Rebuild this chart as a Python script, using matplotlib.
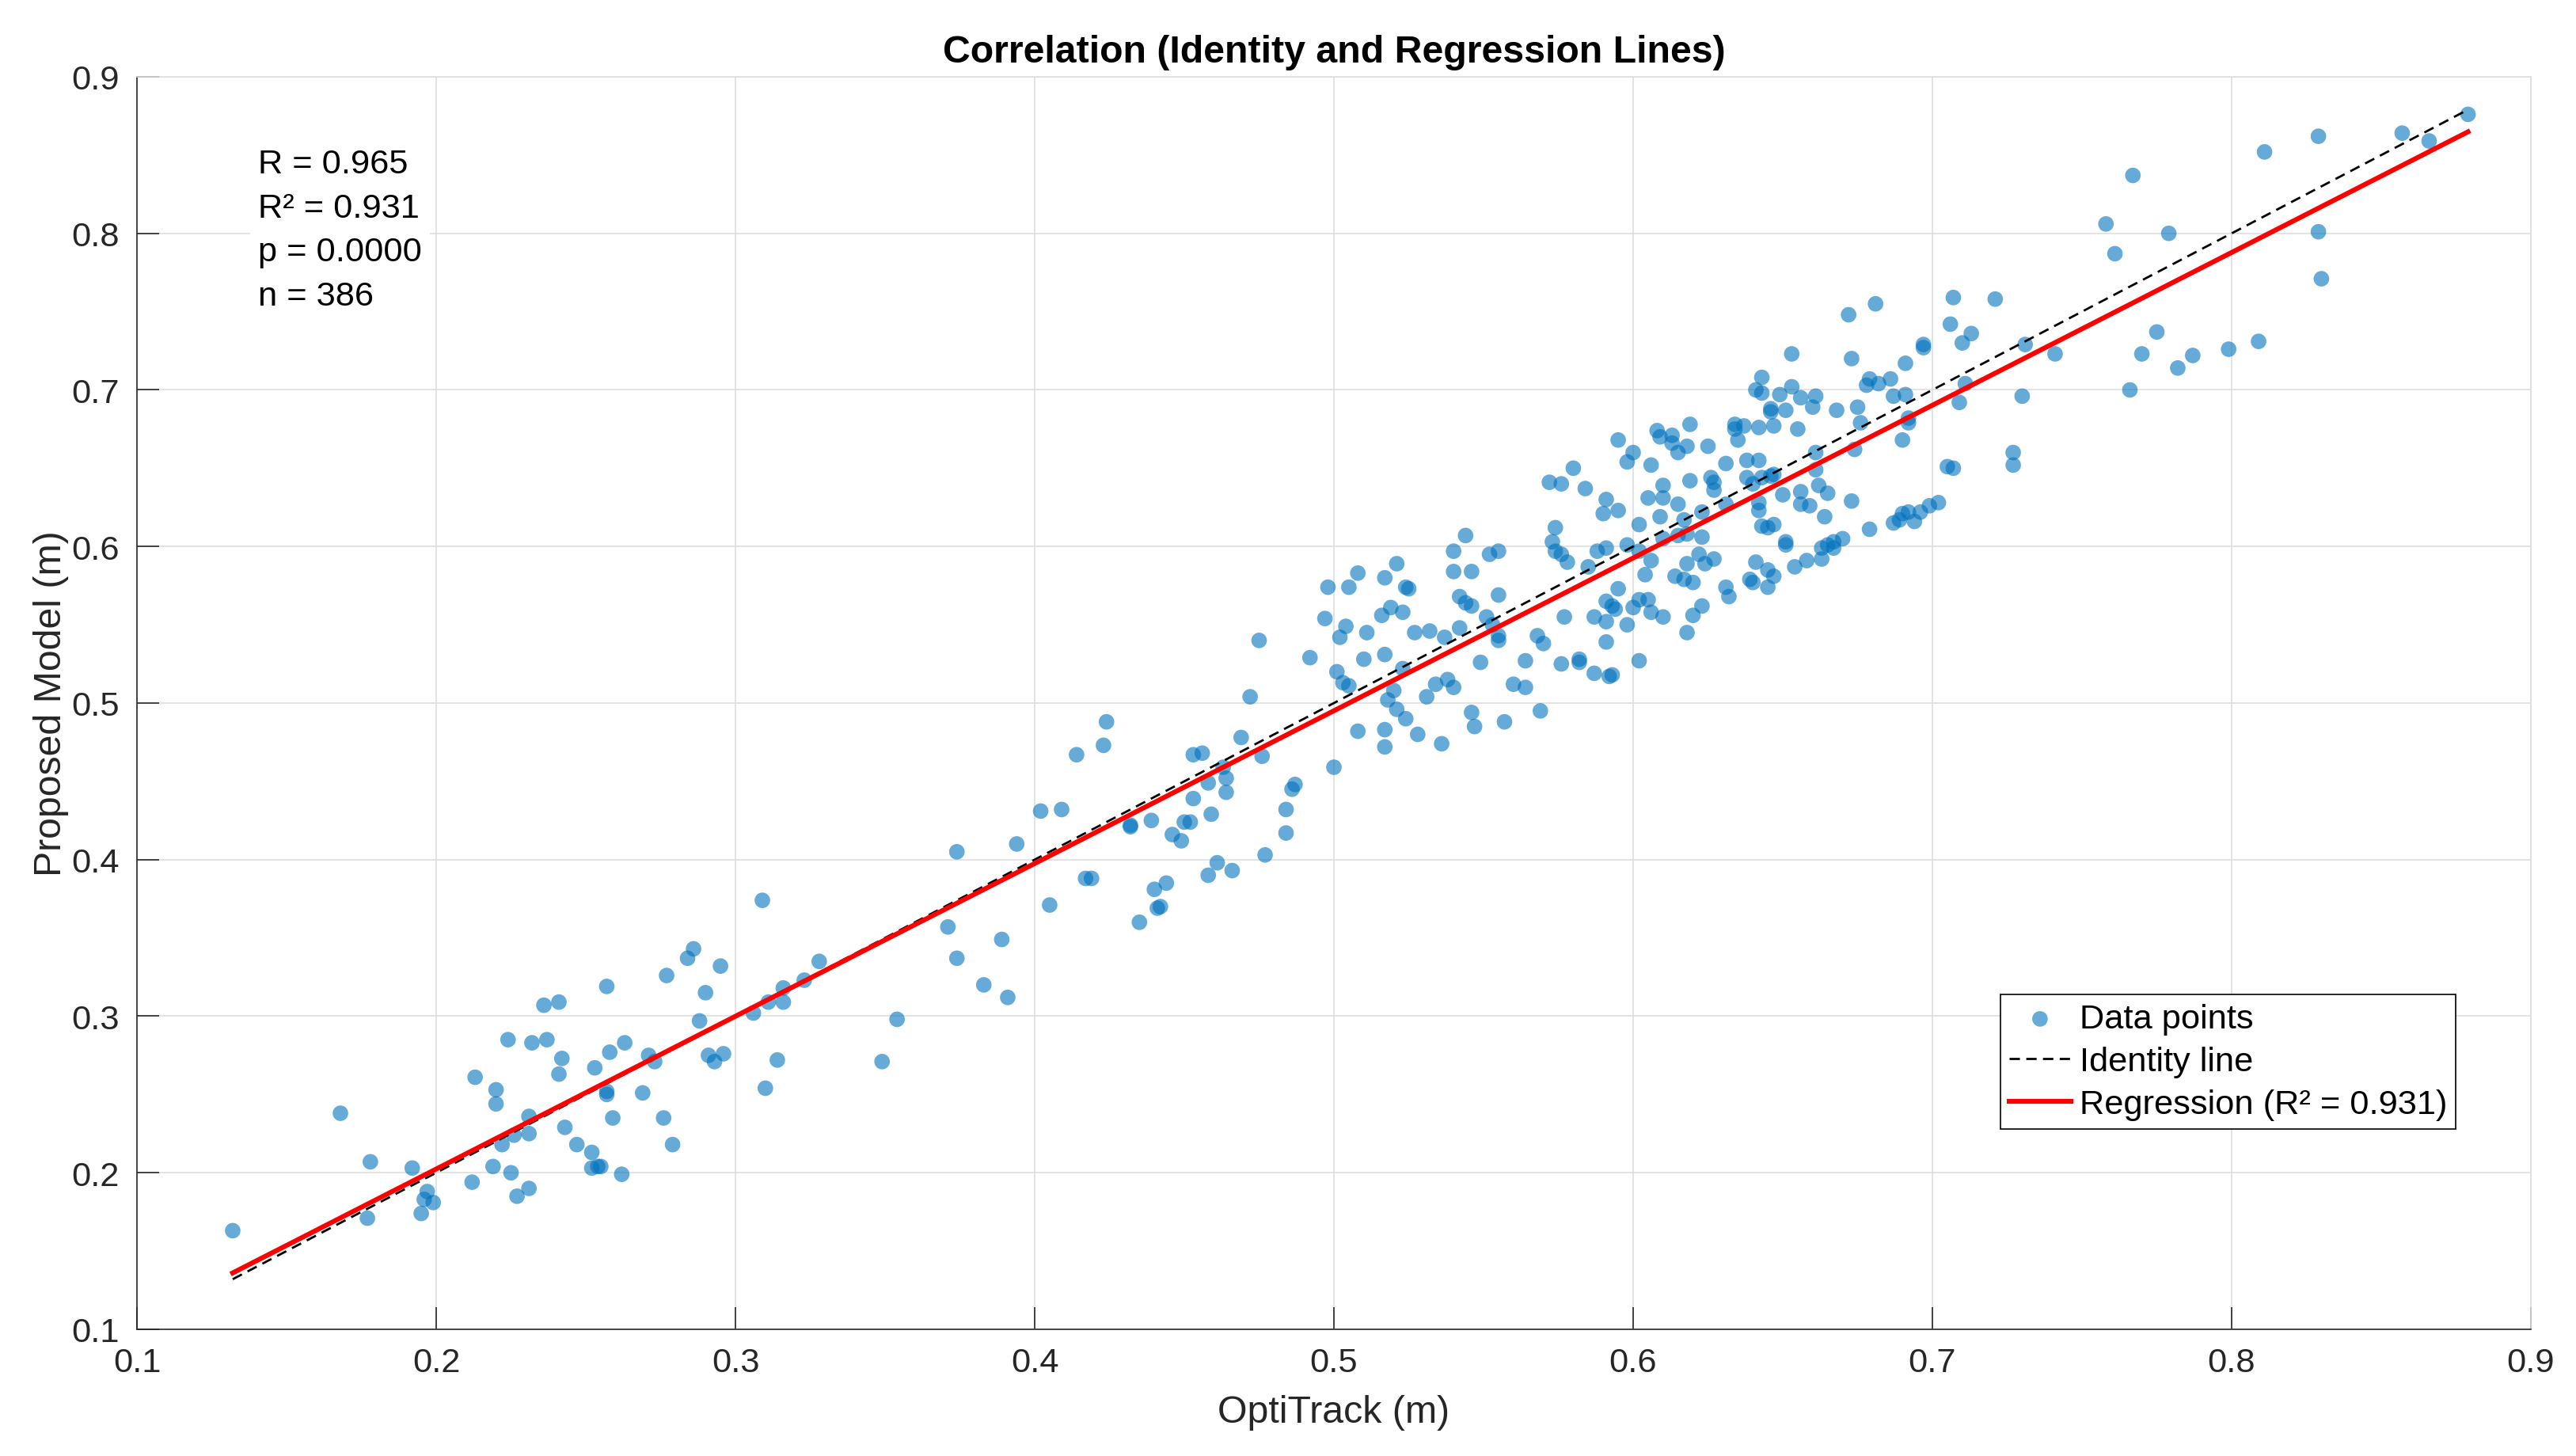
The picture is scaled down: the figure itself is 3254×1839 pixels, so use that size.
import numpy as np
import matplotlib.pyplot as plt

plt.rcParams['font.family'] = ['Liberation Sans', 'DejaVu Sans']

# values, grouped by OptiTrack range
opti_low = [0.132, 0.168, 0.178, 0.177, 0.192, 0.197, 0.196, 0.199, 0.195, 0.213,
            0.212, 0.219, 0.220, 0.220, 0.222, 0.224, 0.225, 0.227, 0.226, 0.231,
            0.231, 0.231, 0.232, 0.236, 0.241, 0.237, 0.242, 0.241, 0.243, 0.247,
            0.252, 0.252, 0.254, 0.255, 0.253, 0.257, 0.258, 0.257, 0.257, 0.259,
            0.262, 0.263]
model_low = [0.163, 0.238, 0.207, 0.171, 0.203, 0.188, 0.183, 0.181, 0.174, 0.261,
             0.194, 0.204, 0.253, 0.244, 0.218, 0.285, 0.200, 0.185, 0.224, 0.225,
             0.236, 0.190, 0.283, 0.307, 0.309, 0.285, 0.273, 0.263, 0.229, 0.218,
             0.213, 0.203, 0.204, 0.204, 0.267, 0.319, 0.277, 0.252, 0.250, 0.235,
             0.199, 0.283]

opti_mid = [0.269, 0.271, 0.273, 0.276, 0.277, 0.279, 0.284, 0.286, 0.288, 0.290,
            0.291, 0.293, 0.296, 0.295, 0.306, 0.309, 0.310, 0.311, 0.314, 0.316,
            0.316, 0.323, 0.328, 0.349, 0.354, 0.371, 0.374, 0.374, 0.383,
            0.389, 0.391, 0.394, 0.402, 0.405, 0.409, 0.414, 0.417, 0.419, 0.423,
            0.424, 0.432, 0.432, 0.435, 0.439, 0.440, 0.441, 0.442, 0.444, 0.446,
            0.449, 0.450, 0.452, 0.453, 0.453, 0.456, 0.458, 0.459, 0.458, 0.461,
            0.463, 0.464, 0.464, 0.466, 0.469, 0.472, 0.476, 0.475, 0.477, 0.484,
            0.484, 0.486, 0.487]
model_mid = [0.251, 0.275, 0.271, 0.235, 0.326, 0.218, 0.337, 0.343, 0.297, 0.315,
             0.275, 0.271, 0.276, 0.332, 0.302, 0.374, 0.254, 0.309, 0.272, 0.318,
             0.309, 0.323, 0.335, 0.271, 0.298, 0.357, 0.405, 0.337, 0.320,
             0.349, 0.312, 0.410, 0.431, 0.371, 0.432, 0.467, 0.388, 0.388, 0.473,
             0.488, 0.422, 0.421, 0.360, 0.425, 0.381, 0.369, 0.370, 0.385, 0.416,
             0.412, 0.424, 0.424, 0.439, 0.467, 0.468, 0.449, 0.429, 0.390, 0.398,
             0.459, 0.452, 0.443, 0.393, 0.478, 0.504, 0.466, 0.540, 0.403, 0.432,
             0.417, 0.445, 0.448]

opti_b5 = [0.595, 0.580, 0.572, 0.576, 0.584, 0.591, 0.595, 0.590, 0.574, 0.544,
           0.573, 0.574, 0.576, 0.578, 0.540, 0.552, 0.555, 0.588, 0.591, 0.521,
           0.508, 0.585, 0.540, 0.546, 0.517, 0.498, 0.505, 0.524, 0.525, 0.595,
           0.555, 0.542, 0.544, 0.546, 0.591, 0.593, 0.594, 0.519, 0.516, 0.523,
           0.497, 0.577, 0.587, 0.591, 0.551, 0.553, 0.504, 0.502, 0.511, 0.527,
           0.532, 0.542, 0.537, 0.555, 0.555, 0.568, 0.570, 0.591, 0.492, 0.510,
           0.517, 0.549, 0.564, 0.576, 0.582, 0.582, 0.523, 0.501, 0.503, 0.505,
           0.587, 0.592, 0.593, 0.534, 0.538, 0.540, 0.560, 0.564, 0.520, 0.518,
           0.521, 0.531, 0.569, 0.546, 0.547, 0.524, 0.557, 0.508, 0.517, 0.528,
           0.517, 0.536, 0.500]
model_b5 = [0.668, 0.650, 0.641, 0.640, 0.637, 0.630, 0.623, 0.621, 0.612, 0.607,
            0.603, 0.597, 0.595, 0.590, 0.597, 0.595, 0.597, 0.597, 0.599, 0.589,
            0.583, 0.587, 0.584, 0.584, 0.580, 0.574, 0.574, 0.574, 0.573, 0.573,
            0.569, 0.568, 0.564, 0.562, 0.565, 0.562, 0.560, 0.561, 0.556, 0.558,
            0.554, 0.555, 0.555, 0.552, 0.555, 0.550, 0.549, 0.542, 0.545, 0.545,
            0.546, 0.548, 0.542, 0.543, 0.540, 0.543, 0.538, 0.539, 0.529, 0.528,
            0.531, 0.526, 0.527, 0.525, 0.528, 0.526, 0.522, 0.520, 0.513, 0.511,
            0.519, 0.517, 0.518, 0.512, 0.515, 0.510, 0.512, 0.510, 0.508, 0.502,
            0.496, 0.504, 0.495, 0.494, 0.485, 0.490, 0.488, 0.482, 0.483, 0.480,
            0.472, 0.474, 0.459]

opti_b6 = [0.697, 0.697, 0.653, 0.673, 0.691, 0.643, 0.686, 0.679, 0.678, 0.682,
           0.653, 0.641, 0.643, 0.649, 0.656, 0.661, 0.660, 0.687, 0.691, 0.646,
           0.646, 0.651, 0.668, 0.675, 0.692, 0.692, 0.619, 0.608, 0.609, 0.613,
           0.613, 0.634, 0.634, 0.637, 0.642, 0.647, 0.655, 0.676, 0.635, 0.618,
           0.625, 0.690, 0.615, 0.600, 0.674, 0.638, 0.642, 0.661, 0.598, 0.606,
           0.631, 0.661, 0.626, 0.627, 0.627, 0.619, 0.638, 0.640, 0.643, 0.646,
           0.647, 0.610, 0.662, 0.656, 0.605, 0.610, 0.650, 0.665, 0.615, 0.623,
           0.631, 0.642, 0.642, 0.673, 0.656, 0.659, 0.609, 0.617, 0.664, 0.602,
           0.643, 0.645, 0.647, 0.615, 0.618, 0.610, 0.623, 0.651, 0.651, 0.679,
           0.687, 0.689, 0.690, 0.692, 0.694, 0.696, 0.699, 0.702, 0.670, 0.663,
           0.665, 0.667, 0.667, 0.598, 0.602, 0.622, 0.606, 0.618, 0.624, 0.627,
           0.641, 0.654, 0.658, 0.663, 0.604, 0.614, 0.617, 0.620, 0.645, 0.647,
           0.645, 0.639, 0.640, 0.631, 0.632, 0.602, 0.605, 0.600, 0.623, 0.606,
           0.620, 0.610, 0.598, 0.618, 0.602, 0.672, 0.681]
model_b6 = [0.729, 0.727, 0.723, 0.720, 0.717, 0.708, 0.707, 0.707, 0.703, 0.704,
            0.702, 0.700, 0.698, 0.697, 0.695, 0.696, 0.689, 0.696, 0.697, 0.688,
            0.686, 0.687, 0.687, 0.689, 0.682, 0.679, 0.678, 0.674, 0.670, 0.671,
            0.666, 0.678, 0.675, 0.677, 0.676, 0.677, 0.675, 0.679, 0.668, 0.664,
            0.664, 0.668, 0.660, 0.660, 0.662, 0.655, 0.655, 0.660, 0.654, 0.652,
            0.653, 0.649, 0.644, 0.641, 0.636, 0.642, 0.644, 0.640, 0.644, 0.645,
            0.646, 0.639, 0.639, 0.635, 0.631, 0.631, 0.633, 0.634, 0.627, 0.622,
            0.627, 0.628, 0.623, 0.629, 0.627, 0.626, 0.619, 0.617, 0.619, 0.614,
            0.613, 0.612, 0.614, 0.607, 0.608, 0.605, 0.606, 0.603, 0.601, 0.611,
            0.615, 0.617, 0.621, 0.622, 0.616, 0.622, 0.626, 0.628, 0.605, 0.599,
            0.601, 0.603, 0.599, 0.601, 0.597, 0.595, 0.591, 0.589, 0.589, 0.592,
            0.590, 0.587, 0.591, 0.592, 0.582, 0.581, 0.579, 0.577, 0.585, 0.581,
            0.574, 0.579, 0.577, 0.574, 0.568, 0.566, 0.566, 0.561, 0.562, 0.558,
            0.556, 0.555, 0.550, 0.545, 0.527, 0.748, 0.755]

opti_high = [0.767, 0.758, 0.779, 0.761, 0.707, 0.721, 0.706, 0.713, 0.710, 0.731,
             0.741, 0.775, 0.770, 0.782, 0.787, 0.799, 0.809, 0.711, 0.709, 0.730,
             0.766, 0.727, 0.727, 0.705, 0.707,
             0.811, 0.829, 0.857, 0.866, 0.879, 0.829, 0.830]
model_high = [0.837, 0.806, 0.800, 0.787, 0.759, 0.758, 0.742, 0.736, 0.730, 0.729,
              0.723, 0.737, 0.723, 0.714, 0.722, 0.726, 0.731, 0.704, 0.692, 0.696,
              0.700, 0.660, 0.652, 0.651, 0.650,
              0.852, 0.862, 0.864, 0.859, 0.876, 0.801, 0.771]

stats_lines = ["R = 0.965", "R\u00b2 = 0.931", "p = 0.0000", "n = 386"]
reg_label = "Regression (R\u00b2 = 0.931)"
ticks = [0.1, 0.2, 0.3, 0.4, 0.5, 0.6, 0.7, 0.8, 0.9]

x = np.concatenate([opti_low, opti_mid, opti_b5, opti_b6, opti_high])
y = np.concatenate([model_low, model_mid, model_b5, model_b6, model_high])
slope, icpt = np.polyfit(x, y, 1)
xl = np.array([x.min(), x.max()])

txt = '#262626'
fs = 15.6
fig = plt.figure(figsize=(16.275, 9.2), dpi=200)
ax = fig.add_axes([0.05315, 0.08696, 0.92903, 0.8598])

ax.scatter(x, y, s=50, color='#0072BD', alpha=0.6, edgecolors='none',
           label='Data points', zorder=3)
ax.plot(xl, xl, color='k', lw=1.0, dashes=(4.7, 2.9), label='Identity line', zorder=4)
ax.plot(xl, slope * xl + icpt, color='red', lw=2.2, label=reg_label, zorder=5)

ax.set_xlim(0.1, 0.9)
ax.set_ylim(0.1, 0.9)
ax.set_xticks(ticks)
ax.set_yticks(ticks)
ax.set_xticklabels([f'{t:.1f}' for t in ticks])
ax.set_yticklabels([f'{t:.1f}' for t in ticks])
ax.grid(True, color='#dedede', lw=0.6, zorder=0)
ax.set_axisbelow(True)
ax.tick_params(direction='in', length=10, width=0.6, labelsize=fs, colors=txt, pad=8)
for s in ['left', 'bottom']:
    ax.spines[s].set_color(txt)
    ax.spines[s].set_linewidth(0.6)
for s in ['top', 'right']:
    ax.spines[s].set_color('#dedede')
    ax.spines[s].set_linewidth(0.6)

ax.set_xlabel('OptiTrack (m)', fontsize=17.4, color=txt, labelpad=7)
ax.set_ylabel('Proposed Model (m)', fontsize=17.4, color=txt, labelpad=1)
ax.set_title('Correlation (Identity and Regression Lines)', fontsize=17.4,
             fontweight='bold', color='k', pad=7)

ax.text(0.0506, 0.943, "\n".join(stats_lines), transform=ax.transAxes,
        ha='left', va='top', fontsize=fs, color='k', linespacing=1.5,
        bbox=dict(facecolor='white', edgecolor='none', pad=3.6), zorder=6)

leg = ax.legend(loc='lower right', bbox_to_anchor=(0.9686, 0.16), borderaxespad=0,
                fontsize=fs, fancybox=False, framealpha=1, edgecolor='k',
                scatterpoints=1, handlelength=1.8, handletextpad=0.25,
                borderpad=0.25, labelspacing=0.32)
leg.get_frame().set_linewidth(0.6)

fig.savefig('out.png', dpi=200)
